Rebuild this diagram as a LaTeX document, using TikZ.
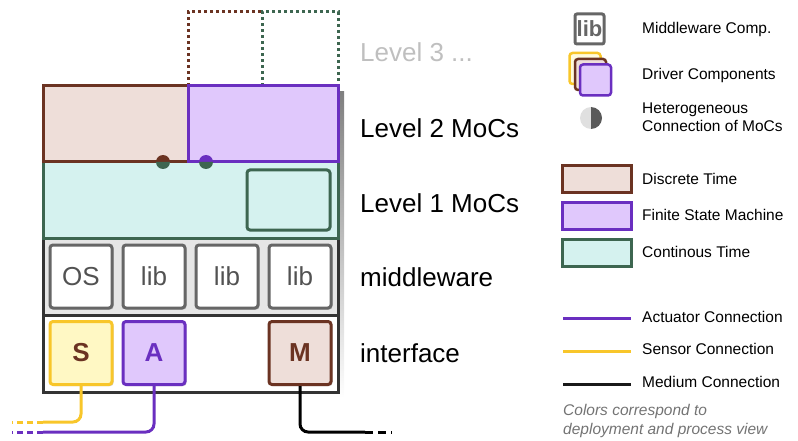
\documentclass[tikz,border=0pt]{standalone}
\usepackage{fontspec}
\setmainfont{Liberation Sans}
\usetikzlibrary{shadows}
\definecolor{dtline}{HTML}{6B3322}
\definecolor{dtfill}{HTML}{EEDED9}
\definecolor{fsmline}{HTML}{6A2FC0}
\definecolor{fsmfill}{HTML}{E0C8FC}
\definecolor{ctline}{HTML}{3D6650}
\definecolor{ctfill}{HTML}{D5F2EF}
\definecolor{senline}{HTML}{F8C62A}
\definecolor{senfill}{HTML}{FFF8C4}
\definecolor{mwline}{HTML}{666666}
\definecolor{mwfill}{HTML}{E6E6E6}
\definecolor{frame}{HTML}{333333}
\definecolor{shade}{HTML}{C8C8C8}
\tikzset{
  layer/.style={draw, line width=3pt, minimum width=295pt, minimum height=76pt, inner sep=0pt},
  comp/.style={draw, line width=3pt, rounded corners=3pt, minimum width=62pt, minimum height=63pt,
    inner sep=0pt, font=\fontsize{26}{30}\selectfont,
    drop shadow={shadow xshift=1.5pt, shadow yshift=-1.5pt, opacity=0.35}},
  mwcomp/.style={comp, draw=mwline, fill=white, text=mwline!80!black},
  lvl/.style={anchor=west, font=\fontsize{26}{30}\selectfont, inner sep=0pt},
  leg/.style={anchor=west, font=\fontsize{15.5}{19}\selectfont, inner sep=0pt, align=left},
  legbox/.style={draw, line width=3pt, minimum width=69pt, minimum height=27pt, inner sep=0pt},
  conn/.style={line width=3pt},
  lvdots/.style={line width=3pt, dash pattern=on 3pt off 3pt},
}
\begin{document}
\begin{tikzpicture}[x=1pt,y=-1pt]
\useasboundingbox (0,0) rectangle (798,441);

% shadow of the whole stack
\fill[shade] (48,92) rectangle (344,398);

% level 3 placeholders
\draw[dtline, lvdots] (188,86) -- (188,12) -- (262,12);
\draw[ctline, lvdots] (262,86) -- (262,12) -- (338,12) -- (338,86);

% interface and middleware layers
\node[layer, draw=frame, fill=white, minimum height=77pt] (iface) at (190.5,353.5) {};
\node[layer, draw=frame, fill=mwfill, minimum height=77pt] (mw) at (190.5,276.5) {};

% level 1 (continuous time)
\node[layer, draw=ctline, fill=ctfill] (l1) at (190.5,200) {};
\node[draw=ctline, line width=3pt, rounded corners=3pt, fill=ctfill, minimum width=83pt, minimum height=60pt, inner sep=0pt] (ctin) at (288.5,200) {};

% level 2 (discrete time + state machine)
\node[layer, draw=dtline, fill=dtfill, minimum width=145pt] (dt) at (115.5,124) {};
\node[layer, draw=fsmline, fill=fsmfill, minimum width=150pt] (fsm) at (263,124) {};

% heterogeneous connection points
\coordinate (h1) at (163,162);
\coordinate (h2) at (206,162);
\fill[dtline] ([xshift=-7pt]h1) arc[start angle=180, end angle=0, radius=7pt] -- cycle;
\fill[ctline] ([xshift=-7pt]h1) arc[start angle=180, end angle=360, radius=7pt] -- cycle;
\fill[fsmline] ([xshift=-7pt]h2) arc[start angle=180, end angle=0, radius=7pt] -- cycle;
\fill[ctline] ([xshift=-7pt]h2) arc[start angle=180, end angle=360, radius=7pt] -- cycle;

% middleware components
\node[mwcomp] (os) at (81,276.5) {OS};
\node[mwcomp] (lib1) at (154,276.5) {lib};
\node[mwcomp] (lib2) at (227,276.5) {lib};
\node[mwcomp] (lib3) at (300,276.5) {lib};

% driver components
\node[comp, draw=senline, fill=senfill, text=dtline, font=\fontsize{26}{30}\selectfont\bfseries] (S) at (81,353) {S};
\node[comp, draw=fsmline, fill=fsmfill, text=fsmline, font=\fontsize{26}{30}\selectfont\bfseries] (A) at (154,353) {A};
\node[comp, draw=dtline, fill=dtfill, text=dtline, font=\fontsize{26}{30}\selectfont\bfseries] (M) at (300,353) {M};

% outgoing connections
\coordinate (sTurn) at (43,422);
\coordinate (sFree) at (12,422);
\coordinate (aTurn) at (43,432);
\coordinate (aFree) at (12,432);
\coordinate (mTurn) at (365,432);
\coordinate (mFree) at (392,432);
\draw[conn, senline, rounded corners=8pt] (S.south) |- (sTurn);
\draw[conn, senline, dash pattern=on 6pt off 4pt] (sTurn) -- (sFree);
\draw[conn, fsmline, rounded corners=8pt] (A.south) |- (aTurn);
\draw[conn, fsmline, dash pattern=on 6pt off 4pt] (aTurn) -- (aFree);
\draw[conn, black, rounded corners=8pt] (M.south) |- (mTurn);
\draw[conn, black, dash pattern=on 8pt off 5pt] (mTurn) -- (mFree);

% layer labels
\node[lvl, text=black!25] (t3) at (360,52) {Level 3 ...};
\node[lvl] (t2) at (360,128) {Level 2 MoCs};
\node[lvl] (t1) at (360,203) {Level 1 MoCs};
\node[lvl] (tm) at (360,277) {middleware};
\node[lvl] (ti) at (360,353) {interface};

% legend: symbols
\node[draw=mwline, line width=3pt, rounded corners=2pt, fill=white, minimum width=29pt, minimum height=30pt, inner sep=0pt, text=mwline, font=\fontsize{22}{24}\selectfont\bfseries] (kLib) at (589.5,29) {lib};
\node[leg] (kLibT) at (642,29) {Middleware Comp.};

\node[draw=senline, line width=2.5pt, rounded corners=3pt, fill=senfill!60!white, minimum size=31pt, inner sep=0pt] (kD1) at (585,68.5) {};
\node[draw=dtline, line width=2.5pt, rounded corners=3pt, fill=dtfill, minimum size=31pt, inner sep=0pt] (kD2) at (590.5,74.5) {};
\node[draw=fsmline, line width=2.5pt, rounded corners=3pt, fill=fsmfill, minimum size=31pt, inner sep=0pt] (kD3) at (595.5,80) {};
\node[leg] (kDT) at (642,75) {Driver Components};

\coordinate (kH) at (591,118);
\fill[black!12] ([yshift=11pt]kH) arc[start angle=90, end angle=270, radius=11pt] -- cycle;
\fill[black!65] ([yshift=11pt]kH) arc[start angle=90, end angle=-90, radius=11pt] -- cycle;
\node[leg] (kHT) at (642,117.5) {Heterogeneous\\[-1pt]Connection of MoCs};

% legend: models of computation
\node[legbox, draw=dtline, fill=dtfill] (kDTb) at (596.5,179) {};
\node[leg] (kDTt) at (642,179) {Discrete Time};
\node[legbox, draw=fsmline, fill=fsmfill] (kFSb) at (596.5,215.5) {};
\node[leg] (kFSt) at (642,215) {Finite State Machine};
\node[legbox, draw=ctline, fill=ctfill] (kCTb) at (596.5,252.5) {};
\node[leg] (kCTt) at (642,252) {Continous Time};

% legend: connections
\coordinate (kA1) at (563,318); \coordinate (kA2) at (631,318);
\coordinate (kS1) at (563,351); \coordinate (kS2) at (631,351);
\coordinate (kM1) at (563,384); \coordinate (kM2) at (631,384);
\draw[line width=3pt, fsmline] (kA1) -- (kA2);
\draw[line width=3pt, senline] (kS1) -- (kS2);
\draw[line width=3pt, black!90] (kM1) -- (kM2);
\node[leg] (kAt) at (642,317) {Actuator Connection};
\node[leg] (kSt) at (642,349) {Sensor Connection};
\node[leg] (kMt) at (642,382) {Medium Connection};

\node[leg, text=black!55, font=\fontsize{15.5}{19}\selectfont\itshape] (note) at (563,420.5) {Colors correspond to\\deployment and process view};
\end{tikzpicture}
\end{document}
